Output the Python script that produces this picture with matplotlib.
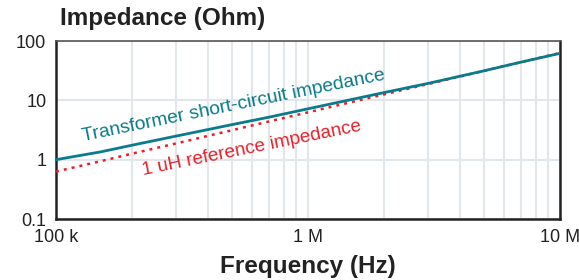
import matplotlib.pyplot as plt
from matplotlib.ticker import FixedLocator, NullFormatter, LogLocator

# data
freq_hz = [1e5, 1.5e5, 2e5, 3e5, 5e5, 7e5, 1e6, 2e6, 3e6, 5e6, 7e6, 1e7]
z_transformer = [1.0, 1.35, 1.75, 2.5, 3.9, 5.2, 7.2, 13.5, 19.3, 31.5, 44.0, 62.0]
z_ref_1uh = [0.63, 0.94, 1.26, 1.88, 3.14, 4.4, 6.28, 12.57, 18.85, 31.4, 44.0, 62.8]

x_ticks = [1e5, 1e6, 1e7]
x_tick_labels = ['100 k', '1 M', '10 M']
y_ticks = [0.1, 1, 10, 100]
y_tick_labels = ['0.1', '1', '10', '100']

teal = '#0a7b8b'
red = '#e8202a'
grid_col = '#e1e7ea'

plt.rcParams['font.family'] = ['Liberation Sans', 'DejaVu Sans']

fig = plt.figure(figsize=(5.79, 2.80), dpi=100)
ax = fig.add_axes([56 / 579, 1 - 219 / 280, 504 / 579, 178 / 280])

ax.plot(freq_hz, z_ref_1uh, color=red, lw=1.8, linestyle=(0, (1.2, 2.0)), zorder=3)
ax.plot(freq_hz, z_transformer, color=teal, lw=2.0, zorder=4)

ax.set_xscale('log')
ax.set_yscale('log')
ax.set_xlim(1e5, 1e7)
ax.set_ylim(0.1, 100)

ax.xaxis.set_major_locator(FixedLocator(x_ticks))
ax.set_xticklabels(x_tick_labels)
ax.xaxis.set_minor_locator(LogLocator(base=10, subs=range(2, 10)))
ax.xaxis.set_minor_formatter(NullFormatter())
ax.yaxis.set_major_locator(FixedLocator(y_ticks))
ax.set_yticklabels(y_tick_labels)
ax.yaxis.set_minor_locator(FixedLocator([]))

ax.grid(True, which='both', axis='x', color=grid_col, lw=1.5)
ax.grid(True, which='major', axis='y', color=grid_col, lw=1.5)
ax.set_axisbelow(True)

ax.tick_params(which='both', length=0, labelsize=13, colors='#222222', pad=7)
for s in ax.spines.values():
    s.set_color('#222222')
    s.set_linewidth(1.8)
ax.spines['top'].set_color('#555555')
ax.spines['top'].set_linewidth(1.2)

ax.text(1.28e5, 2.09, 'Transformer short-circuit impedance', color=teal,
        fontsize=13.9, rotation=11.5, rotation_mode='anchor', ha='left', va='baseline')
ax.text(2.21e5, 0.54, '1 uH reference impedance', color=red,
        fontsize=13.7, rotation=11.5, rotation_mode='anchor', ha='left', va='baseline')

fig.text(60 / 579, 1 - 19 / 280, 'Impedance (Ohm)', fontsize=17.5, fontweight='bold',
         color='#222222', ha='left', va='center')
fig.text(308 / 579, 1 - 266 / 280, 'Frequency (Hz)', fontsize=17.5, fontweight='bold',
         color='#222222', ha='center', va='center')

fig.savefig('out.png', dpi=100)
